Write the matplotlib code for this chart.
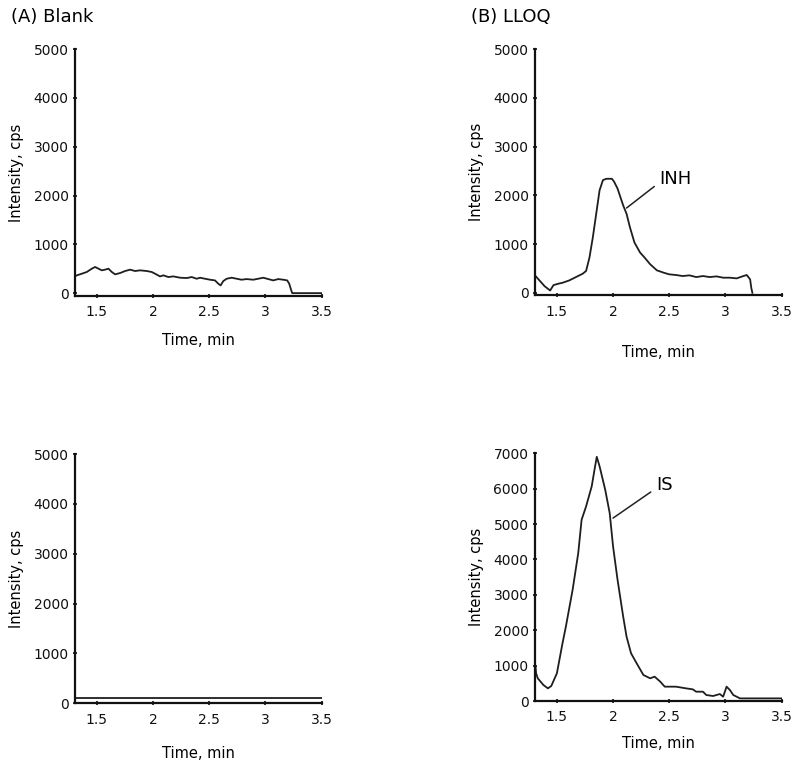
import numpy as np
import matplotlib
matplotlib.use("Agg")
import matplotlib.pyplot as plt

# ---- data ----
blank_inh_t = [1.31, 1.321, 1.366, 1.410, 1.455, 1.484, 1.514, 1.544, 1.573, 1.603, 1.633, 1.662,
               1.707, 1.751, 1.796, 1.840, 1.884, 1.944, 1.988, 2.018, 2.062, 2.092, 2.136,
               2.181, 2.240, 2.299, 2.344, 2.388, 2.418, 2.462, 2.507, 2.551, 2.581, 2.601,
               2.625, 2.655, 2.699, 2.744, 2.788, 2.833, 2.892, 2.936, 2.981, 3.025, 3.070,
               3.114, 3.159, 3.194, 3.212, 3.230, 3.239, 3.50]
blank_inh_i = [350, 364, 398, 433, 501, 536, 501, 467, 481, 501, 433, 385,
               412, 453, 481, 453, 467, 453, 433, 398, 343, 364, 330,
               343, 316, 309, 330, 295, 316, 295, 275, 261, 192, 158,
               247, 295, 316, 295, 275, 288, 275, 295, 316, 288, 261,
               288, 275, 261, 192, 55, 0, 0]

blank_is_t = [1.31, 3.50]
blank_is_i = [110, 110]

lloq_inh_t = [1.31, 1.35, 1.39, 1.44, 1.47, 1.51, 1.55, 1.61, 1.67, 1.73, 1.76, 1.79, 1.82,
              1.85, 1.88, 1.91, 1.94, 1.99, 2.01, 2.04, 2.09, 2.12, 2.15, 2.19, 2.24, 2.28,
              2.33, 2.39, 2.45, 2.50, 2.56, 2.62, 2.68, 2.74, 2.80, 2.86, 2.92, 2.98, 3.04,
              3.10, 3.16, 3.19, 3.22, 3.23, 3.24]
lloq_inh_i = [345, 242, 138, 48, 159, 186, 207, 255, 324, 393, 449, 725, 1139,
              1622, 2105, 2312, 2340, 2340, 2277, 2139, 1794, 1622, 1346, 1035, 828, 725,
              587, 462, 414, 380, 366, 345, 359, 324, 345, 324, 338, 311, 311,
              297, 345, 366, 276, 104, 0]

lloq_is_t = [1.31, 1.315, 1.33, 1.38, 1.42, 1.45, 1.50, 1.55, 1.58, 1.64, 1.69, 1.72, 1.76,
             1.81, 1.84, 1.855, 1.88, 1.93, 1.97, 2.00, 2.04, 2.09, 2.12, 2.16, 2.21, 2.27,
             2.33, 2.37, 2.42, 2.46, 2.56, 2.65, 2.71, 2.74, 2.80, 2.83, 2.89, 2.95, 2.98,
             3.01, 3.04, 3.07, 3.13, 3.50]
lloq_is_i = [972, 783, 642, 453, 358, 425, 783, 1632, 2104, 3142, 4179, 5123, 5500,
             6066, 6632, 6900, 6632, 5972, 5311, 4368, 3425, 2387, 1821, 1349, 1066, 736,
             642, 689, 547, 406, 406, 358, 330, 264, 264, 170, 142, 198, 123,
             406, 311, 170, 75, 75]

x_ticks = [1.5, 2, 2.5, 3, 3.5]
x_tick_labels = ["1.5", "2", "2.5", "3", "3.5"]

fig = plt.figure(figsize=(8, 7.67), dpi=100)

# axes boxes in figure fraction (left, bottom, width, height)
ax_a1 = fig.add_axes([0.094, 0.614, 0.308, 0.322])
ax_b1 = fig.add_axes([0.669, 0.615, 0.308, 0.321])
ax_a2 = fig.add_axes([0.094, 0.083, 0.308, 0.325])
ax_b2 = fig.add_axes([0.669, 0.086, 0.308, 0.323])

line_kw = dict(color="#1e1e1e", lw=1.3)


def style(ax, ymin, ymax, xpad):
    ax.set_xlim(1.307, 3.5)
    ax.set_ylim(ymin, ymax)
    ax.set_yticks(np.arange(0, ymax + 1, 1000))
    ax.set_xticks(x_ticks)
    ax.set_xticklabels(x_tick_labels)
    for s in ["top", "right"]:
        ax.spines[s].set_visible(False)
    for s in ["left", "bottom"]:
        ax.spines[s].set_linewidth(1.6)
        ax.spines[s].set_color("#111111")
    ax.tick_params(axis="both", direction="inout", length=3.5, width=1.2,
                   labelsize=10, colors="#111111")
    ax.tick_params(axis="x", pad=5)
    ax.tick_params(axis="y", pad=3)
    ax.set_xlabel("Time, min", fontsize=10.5, labelpad=xpad)
    ax.set_ylabel("Intensity, cps", fontsize=10.5, labelpad=7)


ax_a1.plot(blank_inh_t, blank_inh_i, **line_kw)
style(ax_a1, -60, 5000, 10)

ax_b1.plot(lloq_inh_t, lloq_inh_i, **line_kw)
style(ax_b1, -50, 5000, 19)
ax_b1.annotate("INH", xy=(2.12, 1740), xytext=(2.41, 2330), fontsize=13,
               va="center", ha="left",
               arrowprops=dict(arrowstyle="-", color="#222222", lw=1.1,
                               shrinkA=0, shrinkB=0, relpos=(-0.15, 0.1)))

ax_a2.plot(blank_is_t, blank_is_i, **line_kw)
style(ax_a2, 0, 5000, 14)

ax_b2.plot(lloq_is_t, lloq_is_i, **line_kw)
style(ax_b2, 0, 7000, 8)
ax_b2.annotate("IS", xy=(2.0, 5170), xytext=(2.38, 6110), fontsize=13,
               va="center", ha="left",
               arrowprops=dict(arrowstyle="-", color="#222222", lw=1.1,
                               shrinkA=0, shrinkB=0, relpos=(-0.3, 0.1)))

fig.text(0.014, 0.978, "(A) Blank", fontsize=13, va="center", ha="left")
fig.text(0.589, 0.978, "(B) LLOQ", fontsize=13, va="center", ha="left")

fig.savefig("out.png", dpi=100, facecolor="white")
